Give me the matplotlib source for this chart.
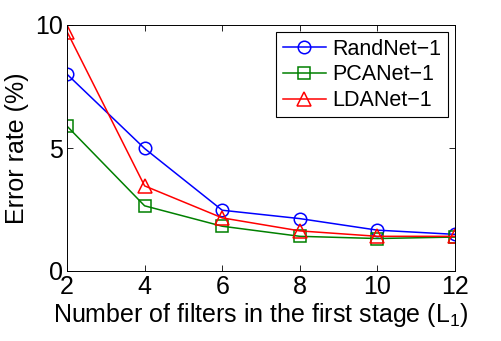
import numpy as np
import matplotlib
matplotlib.use("Agg")
import matplotlib.pyplot as plt

plt.rcParams['font.family'] = ['Liberation Sans', 'DejaVu Sans']
plt.rcParams['mathtext.fontset'] = 'custom'
plt.rcParams['mathtext.rm'] = 'Liberation Sans'
plt.rcParams['mathtext.it'] = 'Liberation Sans'

# number of filters L1
filters = [2, 4, 6, 8, 10, 12]
# error rates (%)
randnet = [8.0, 4.98, 2.47, 2.13, 1.66, 1.49]
pcanet = [5.89, 2.65, 1.82, 1.41, 1.32, 1.38]
ldanet = [9.73, 3.46, 2.16, 1.63, 1.41, 1.41]

fig = plt.figure(figsize=(5.02, 3.41), dpi=100)
ax = fig.add_axes([67 / 502, 1 - 271 / 341, (455 - 67) / 502, (271 - 25) / 341])

ax.plot(filters, randnet, color='#0000ff', marker='o', mfc='none', ms=9, mew=1.1, lw=1.1, label='RandNet\u22121')
ax.plot(filters, pcanet, color='#008000', marker='s', mfc='none', ms=8, mew=1.1, lw=1.1, label='PCANet\u22121')
ax.plot(filters, ldanet, color='#ff0000', marker='^', mfc='none', ms=10, mew=1.1, lw=1.1, label='LDANet\u22121')

ax.set_xlim(2, 12)
ax.set_ylim(0, 10)
ax.set_xticks(filters)
ax.set_yticks([0, 5, 10])
ax.tick_params(direction='in', top=True, right=True, labelsize=18, length=4, width=0.6, pad=3)
for s in ax.spines.values():
    s.set_linewidth(0.7)

ax.set_xlabel(r'Number of filters in the first stage (L$_1$)', fontsize=18, labelpad=1)
ax.set_ylabel('Error rate (%)', fontsize=18, labelpad=4)

leg = ax.legend(loc='upper right', fontsize=15.5, numpoints=1, handlelength=2.0, fancybox=False,
                edgecolor='black', framealpha=1, borderpad=0.3, labelspacing=0.22,
                handletextpad=0.3, borderaxespad=0.33)
leg.get_frame().set_linewidth(0.8)

fig.savefig('out.png', dpi=100)
